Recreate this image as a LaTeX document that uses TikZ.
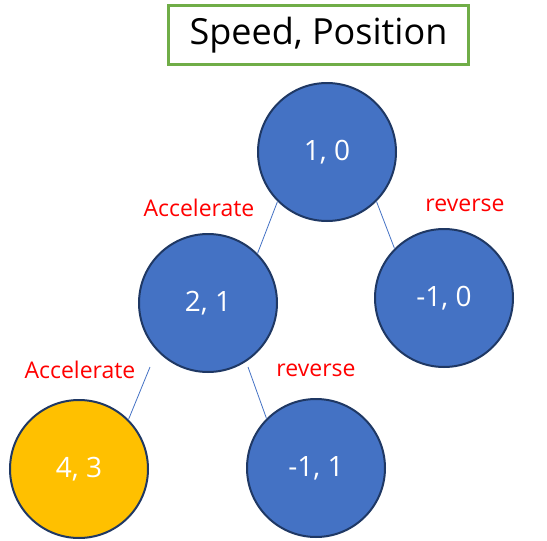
\documentclass[tikz,border=0pt]{standalone}
\usepackage{fontspec}
\setmainfont{Open Sans}
\usetikzlibrary{positioning}

\definecolor{nodeblue}{HTML}{4472C4}
\definecolor{nodeedge}{HTML}{1F3864}
\definecolor{goalorange}{HTML}{FFC000}
\definecolor{titlegreen}{HTML}{70AD47}

\begin{document}
\begin{tikzpicture}[
    x=1pt, y=-1pt,
    state/.style={circle, draw=nodeedge, line width=2pt, fill=nodeblue, text=white, minimum size=138pt, inner sep=0pt, font=\fontsize{28}{32}\selectfont},
    goal/.style={state, fill=goalorange},
    act/.style={text=red, font=\fontsize{23}{27}\selectfont, inner sep=0pt},
    edge/.style={draw=nodeblue, line width=0.8pt}
]
    \useasboundingbox (0,0) rectangle (547,541);

    \node[draw=titlegreen, line width=2.5pt, minimum width=300pt, minimum height=59pt, font=\fontsize{36}{42}\selectfont] (title) at (318.5,35) {Speed, Position};

    \node[state] (s10) at (327,152) {1, 0};
    \node[state] (s21) at (208,303) {2, 1};
    \node[state] (sm10) at (444,298) {-1, 0};
    \node[goal] (s43) at (79,469) {4, 3};
    \node[state] (sm11) at (316,468) {-1, 1};

    % labels of the actions
    \node[act] (acc1) at (199,208) {Accelerate};
    \node[act] (rev1) at (465,205) {reverse};
    \node[act] (acc2) at (80,370) {Accelerate};
    \node[act] (rev2) at (316,370) {reverse};

    \coordinate (fromacc) at (150,367);
    \coordinate (fromrev) at (248,367);

    \draw[edge] (s10.south west) -- (s21.north east);
    \draw[edge] (s10.south east) -- (sm10.north west);
    \draw[edge] (fromacc) -- (s43.north east);
    \draw[edge] (fromrev) -- (sm11.north west);
\end{tikzpicture}
\end{document}
